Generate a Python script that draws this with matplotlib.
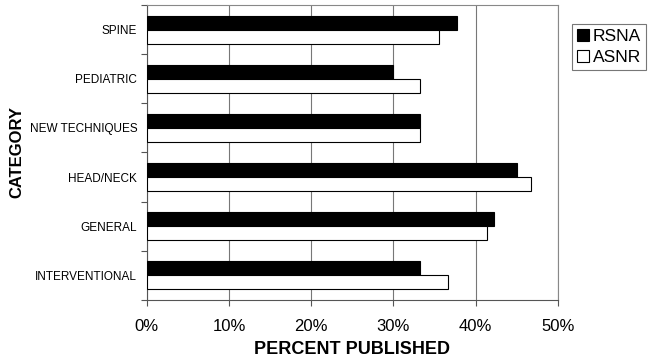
import numpy as np
import matplotlib.pyplot as plt

plt.rcParams['font.family'] = ['Liberation Sans', 'DejaVu Sans']

# Categories listed top to bottom
categories = ['SPINE', 'PEDIATRIC', 'NEW TECHNIQUES', 'HEAD/NECK', 'GENERAL', 'INTERVENTIONAL']
rsna = [37.8, 30.0, 33.3, 45.1, 42.2, 33.3]
asnr = [35.5, 33.3, 33.3, 46.7, 41.4, 36.7]
xticks = [0, 10, 20, 30, 40, 50]

fig = plt.figure(figsize=(6.5, 3.57), dpi=100)
ax = fig.add_axes([0.226, 0.16, 0.632, 0.826])

n = len(categories)
y = np.arange(n)[::-1]
h = 0.285

ax.barh(y + h / 2, rsna, height=h, color='black', edgecolor='black', linewidth=0.8, label='RSNA', zorder=3)
ax.barh(y - h / 2, asnr, height=h, color='white', edgecolor='black', linewidth=0.8, label='ASNR', zorder=3)

ax.set_xlim(0, 50)
ax.set_ylim(-0.5, n - 0.5)

ax.set_xticks(xticks)
ax.set_xticklabels([f'{v}%' for v in xticks], fontsize=12)
ax.tick_params(axis='x', direction='out', length=4, width=0.8, color='#555555', pad=10)

ax.set_yticks(y)
ax.set_yticklabels(categories, fontsize=8.5)
ax.tick_params(axis='y', which='major', length=0, pad=7)
ax.set_yticks(np.arange(n + 1) - 0.5, minor=True)
ax.tick_params(axis='y', which='minor', direction='out', length=4, width=0.8, color='#555555')

ax.grid(axis='x', color='#777777', linewidth=0.8, zorder=0)
for side in ['top', 'right']:
    ax.spines[side].set_color('#888888')
    ax.spines[side].set_linewidth(0.8)
for side in ['left', 'bottom']:
    ax.spines[side].set_color('#555555')
    ax.spines[side].set_linewidth(0.8)

ax.set_xlabel('PERCENT PUBLISHED', fontsize=13, fontweight='bold', labelpad=5)
fig.text(17 / 650, 1 - 152 / 357, 'CATEGORY', rotation=90, fontsize=12, fontweight='bold',
         ha='center', va='center')

leg = fig.legend(loc='upper left', bbox_to_anchor=(572 / 650, 1 - 24 / 357), fontsize=12.5,
                 frameon=True, fancybox=False, edgecolor='#555555',
                 handlelength=0.7, handleheight=0.7, handletextpad=0.2,
                 borderpad=0.3, labelspacing=0.3, borderaxespad=0)
leg.get_frame().set_linewidth(0.8)

fig.savefig('out.png', dpi=100)
